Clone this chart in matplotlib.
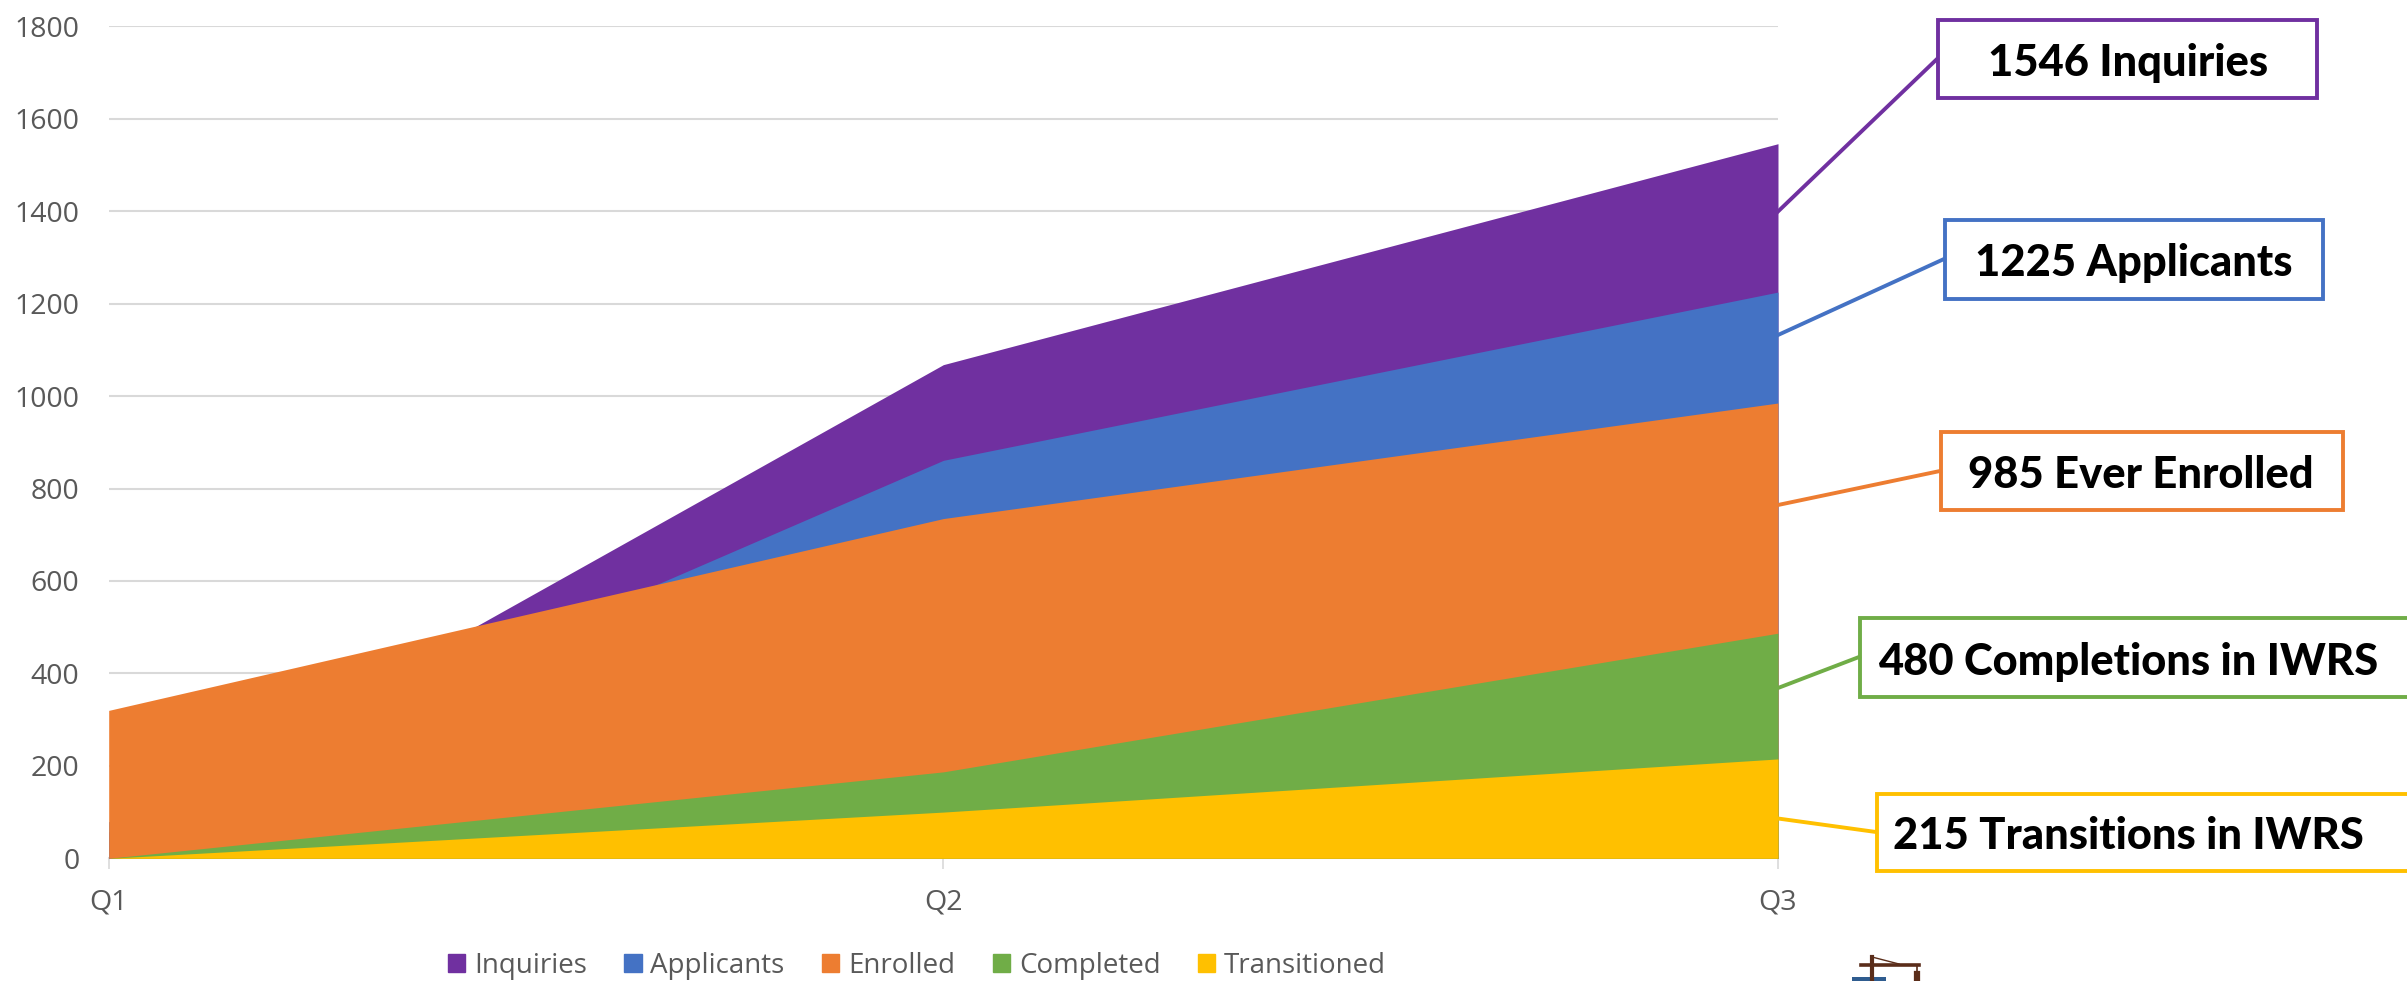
import matplotlib
matplotlib.use("Agg")
import matplotlib.pyplot as plt
from matplotlib.lines import Line2D
from matplotlib.patches import Rectangle

W, H = 2407, 981

quarters = ["Q1", "Q2", "Q3"]
inquiries = [57, 1068, 1546]
applicants = [79, 861, 1225]
enrolled = [320, 735, 985]
completed = [0, 187, 487]
transitioned = [0, 100, 215]

series_names = ["Inquiries", "Applicants", "Enrolled", "Completed", "Transitioned"]
series_values = [inquiries, applicants, enrolled, completed, transitioned]
colors = ["#7030A0", "#4472C4", "#ED7D31", "#70AD47", "#FFC000"]

box_labels = ["1546 Inquiries", "1225 Applicants", "985 Ever Enrolled",
              "480 Completions in IWRS", "215 Transitions in IWRS"]

plt.rcParams["font.family"] = ["Open Sans", "DejaVu Sans"]


def fx(x):
    return x / W


def fy(y):
    return 1 - y / H


fig = plt.figure(figsize=(W / 100, H / 100), dpi=100)
ax = fig.add_axes([fx(108.7), fy(858.3), (1778 - 108.7) / W, (858.3 - 26.3) / H])

x = range(len(quarters))
handles = []
# plain overlapping areas, back to front
for name, vals, col in zip(series_names, series_values, colors):
    ax.fill_between(x, 0, vals, color=col, lw=0, zorder=2)
    handles.append(Rectangle((0, 0), 1, 1, color=col, label=name))

ax.set_xlim(0, 2)
ax.set_ylim(0, 1800)
ax.set_xticks(list(x))
ax.set_xticklabels(quarters)
ax.set_yticks(range(0, 1801, 200))
ax.grid(True, axis="y", color="#D9D9D9", lw=1.5, zorder=0)
ax.set_axisbelow(True)
for s in ["top", "left", "right"]:
    ax.spines[s].set_visible(False)
ax.spines["bottom"].set_color("#D9D9D9")
ax.spines["bottom"].set_linewidth(1.5)
ax.spines["bottom"].set_zorder(1)
ax.tick_params(axis="y", length=0, pad=21, labelsize=20.5, labelcolor="#595959")
ax.tick_params(axis="x", length=8, width=1.2, color="#D9D9D9", pad=14,
               labelsize=20.5, labelcolor="#595959")

# callout boxes: left, top, right, bottom in pixels
boxes = [(1938, 20, 2317, 98), (1945, 220, 2323, 298.5), (1941, 432, 2343, 510),
         (1860, 618, 2420, 696.5), (1877, 793.5, 2420, 871)]
leaders = [((1778, 211.5), (1937, 59)), ((1778, 335), (1944, 259)),
           ((1778, 505), (1940, 471)), ((1778, 688), (1859, 657)),
           ((1778, 818.5), (1876, 832))]
text_pos = [(2128, 63), (2134, 263), (2141, 475), (2128, 662), (2128, 836)]

for box, lead, pos, lab, col in zip(boxes, leaders, text_pos, box_labels, colors):
    l, t, r, b = box
    fig.add_artist(Rectangle((fx(l), fy(b)), (r - l) / W, (b - t) / H, transform=fig.transFigure,
                             facecolor="white", edgecolor=col, lw=2.8, clip_on=True))
    fig.add_artist(Line2D([fx(lead[0][0]), fx(lead[1][0])], [fy(lead[0][1]), fy(lead[1][1])],
                          color=col, lw=2.8))
    fig.text(fx(pos[0]), fy(pos[1]), lab, ha="center", va="center", color="black",
             family="Lato", fontweight="black", fontsize=31.3)

fig.legend(handles=handles, loc="center", bbox_to_anchor=(fx(917), fy(966)), ncol=5,
           frameon=False, fontsize=20, labelcolor="#595959", handlelength=0.62,
           handleheight=0.62, handletextpad=0.32, columnspacing=1.35)

# little crane logo cut off at the bottom edge
brown = "#5A2D1A"
crane = [([1872, 1872], [957, 981], 3.0), ([1861, 1919], [965, 965], 2.6),
         ([1872, 1899], [957, 964], 1.0), ([1917, 1917], [965, 974], 1.2),
         ([1917, 1917], [974, 981], 4.5)]
for xs, ys, lw in crane:
    fig.add_artist(Line2D([fx(v) for v in xs], [fy(v) for v in ys], color=brown, lw=lw))
fig.add_artist(Rectangle((fx(1852), fy(981)), 34 / W, 4 / H, transform=fig.transFigure,
                         facecolor="#2F5C8F", edgecolor="none"))

fig.savefig("out.png", dpi=100)
